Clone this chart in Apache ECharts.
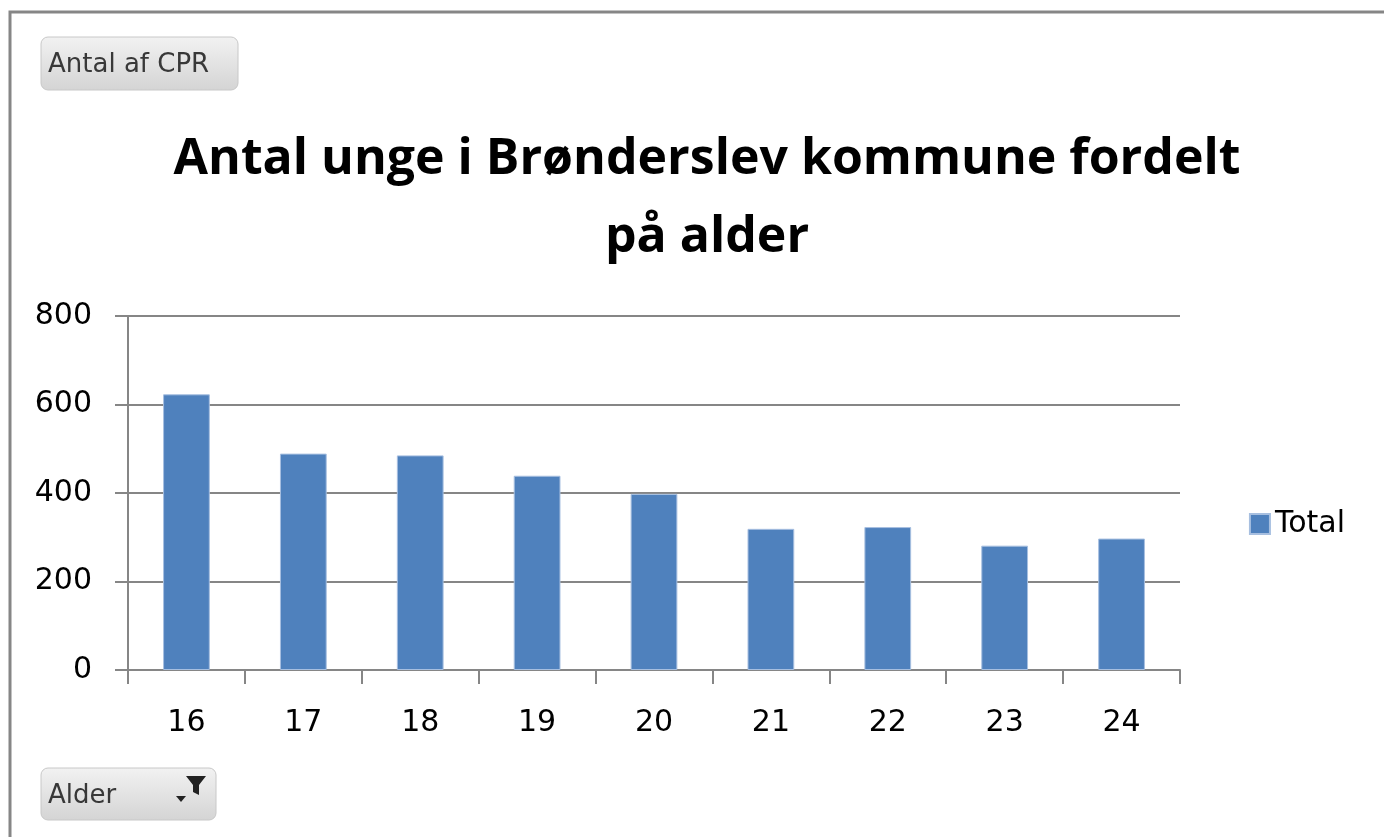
<!DOCTYPE html>
<html>
<head>
<meta charset="utf-8">
<script src="https://cdn.jsdelivr.net/npm/echarts@6/dist/echarts.min.js"></script>
<style>
  html, body { margin: 0; padding: 0; background: #fff; }
  #chart { width: 1384px; height: 837px; }
</style>
</head>
<body>
<div id="chart"></div>
<script>
const ages = ['16', '17', '18', '19', '20', '21', '22', '23', '24']
const totals = [623, 489, 485, 439, 398, 319, 323, 281, 297]
const yTicks = [0, 200, 400, 600, 800]

const chart = echarts.init(document.getElementById('chart'))

const buttonStyle = {
  fill: {
    type: 'linear', x: 0, y: 0, x2: 0, y2: 1,
    colorStops: [
      { offset: 0, color: '#f2f2f2' },
      { offset: 1, color: '#d4d4d4' },
    ],
  },
  stroke: '#c8c8c8',
  lineWidth: 1,
}

const option = {
  backgroundColor: '#fff',
  animation: false,
  title: {
    text: 'Antal unge i Brønderslev kommune fordelt\npå alder',
    left: 702,
    textAlign: 'center',
    top: 116,
    textStyle: {
      fontFamily: 'Open Sans',
      fontWeight: 'bold',
      fontSize: 50,
      lineHeight: 78,
      color: '#000',
    },
  },
  legend: {
    data: ['Total'],
    right: 34,
    top: 504,
    itemWidth: 20,
    itemHeight: 20,
    itemGap: 10,
    icon: 'rect',
    textStyle: { fontFamily: 'DejaVu Sans', fontSize: 30, color: '#000' },
  },
  grid: { left: 128, right: 204, top: 316, bottom: 167 },
  xAxis: {
    type: 'category',
    data: ages,
    axisLine: { lineStyle: { color: '#868686', width: 2 } },
    axisTick: { show: true, length: 14, lineStyle: { color: '#868686', width: 2 } },
    axisLabel: { fontFamily: 'DejaVu Sans', fontSize: 30, color: '#000', margin: 38 },
  },
  yAxis: {
    type: 'value',
    min: 0,
    max: 800,
    interval: 200,
    axisLine: { show: true, lineStyle: { color: '#868686', width: 2 } },
    axisTick: { show: true, length: 13, lineStyle: { color: '#868686', width: 2 } },
    splitLine: { lineStyle: { color: '#868686', width: 2 } },
    axisLabel: {
      fontFamily: 'DejaVu Sans',
      fontSize: 30,
      color: '#000',
      margin: 36,
      formatter: (v) => (yTicks.includes(v) ? String(v) : ''),
    },
  },
  series: [
    {
      name: 'Total',
      type: 'bar',
      data: totals,
      barCategoryGap: '60%',
      itemStyle: { color: '#4f81bd', borderColor: '#a7bfe0', borderWidth: 1 },
    },
  ],
  graphic: [
    // frame
    {
      type: 'rect',
      shape: { x: 10, y: 12, width: 1400, height: 900 },
      style: { fill: 'none', stroke: '#868686', lineWidth: 3 },
      silent: true,
    },
    // pivot field buttons
    {
      type: 'rect',
      shape: { x: 41, y: 37, width: 197, height: 53, r: 7 },
      style: buttonStyle,
    },
    {
      type: 'text',
      left: 48,
      top: 52,
      style: { text: 'Antal af CPR', font: '26px "DejaVu Sans"', fill: '#383838' },
    },
    {
      type: 'rect',
      shape: { x: 41, y: 768, width: 175, height: 52, r: 7 },
      style: buttonStyle,
    },
    {
      type: 'text',
      left: 48,
      top: 783,
      style: { text: 'Alder', font: '26px "DejaVu Sans"', fill: '#383838' },
    },
    {
      type: 'polygon',
      shape: { points: [[176, 796], [186, 796], [181, 802]] },
      style: { fill: '#222' },
    },
    {
      type: 'polygon',
      shape: { points: [[186, 776], [206, 776], [199, 785], [199, 795], [193, 792], [193, 785]] },
      style: { fill: '#222' },
    },
  ],
}

chart.setOption(option)
</script>
</body>
</html>
